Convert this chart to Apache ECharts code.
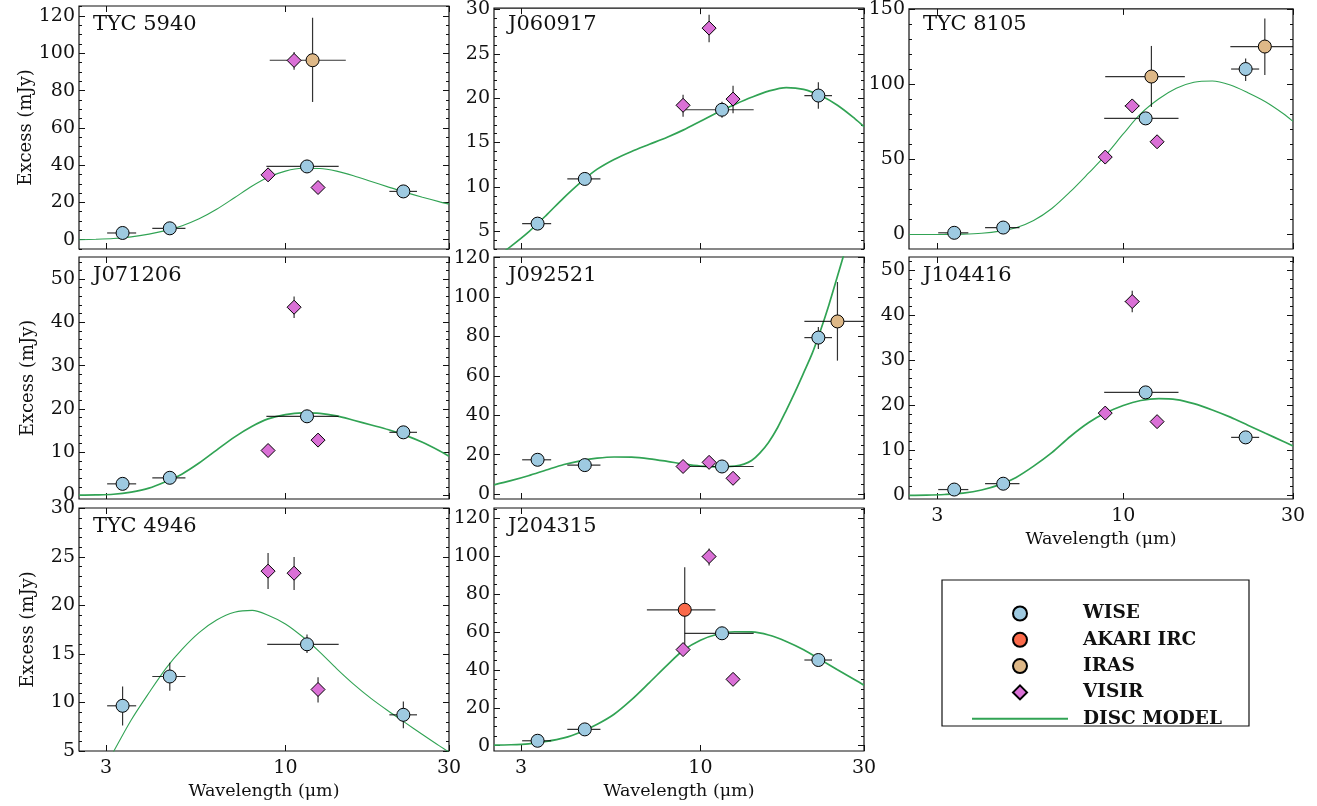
<!DOCTYPE html>
<html><head><meta charset="utf-8">
<script src="https://cdn.jsdelivr.net/npm/echarts@6/dist/echarts.min.js"></script>
<style>html,body{margin:0;padding:0;background:#fff}#c{width:1317px;height:806px}</style>
</head><body><div id="c"></div>
<script>
// ---------- DATA (wavelength in um, excess in mJy) ----------
// point rows: [lambda, value, lambdaLow, lambdaHigh, valueLow, valueHigh]
const panelNames = ['TYC 5940', 'J060917', 'TYC 8105', 'J071206', 'J092521', 'J104416', 'TYC 4946', 'J204315'];
const xTickLabels = [3, 10, 30];

const wise_TYC5940 = [[3.35,3.6,3.02,3.67,3.1,4.1],[4.6,6.1,4.09,5.11,5.6,6.6],[11.56,39.3,8.8,14.3,38.5,40.1],[22.08,25.9,20.1,24.2,25.0,26.8]];
const visir_TYC5940 = [[8.9,34.8,8.9,8.9,34,35.6],[10.6,96.2,10.6,10.6,91.2,100.7],[12.45,28.0,12.45,12.45,27.2,28.8]];
const iras_TYC5940 = [[12.0,96.3,9.0,15.0,73.9,119.1]];
const model_TYC5940 = [[2.5,0.0],[2.8,0.2],[3.15,0.6],[3.55,1.5],[4.0,3.0],[4.5,5.0],[5.0,7.5],[5.6,11.2],[6.3,16.3],[7.1,22.5],[8.0,28.8],[8.9,33.5],[10,36.8],[11.2,38.3],[12.6,38.2],[14.1,36.8],[15.8,34.3],[17.8,31.2],[20,28.2],[22.4,25.4],[25.1,22.8],[28.2,20.3],[30,19.1]];

const wise_J060917 = [[3.35,5.86,3.02,3.67,5.5,6.2],[4.6,10.9,4.09,5.11,10.5,11.3],[11.56,18.7,8.9,14.3,17.8,19.6],[22.08,20.3,20.1,24.2,18.8,21.8]];
const visir_J060917 = [[8.9,19.2,8.9,8.9,17.9,20.4],[10.6,27.9,10.6,10.6,26.3,29.4],[12.45,19.9,12.45,12.45,18.3,21.4]];
const model_J060917 = [[2.5,1.9],[2.8,3.3],[3.15,4.9],[3.55,6.8],[4.0,8.8],[4.5,10.6],[5.0,12.0],[5.6,13.1],[6.3,14.0],[7.1,14.8],[8.0,15.6],[8.9,16.4],[10,17.4],[11.2,18.4],[12.6,19.3],[14.1,20.1],[15.8,20.8],[17.8,21.2],[20,21.0],[22.4,20.3],[25.1,19.2],[28.2,17.7],[30,16.8]];

const wise_TYC8105 = [[3.35,1.1,3.02,3.67,0,2.2],[4.6,4.6,4.09,5.11,3.5,5.7],[11.56,77.4,8.84,14.3,75,79.8],[22.08,110.3,20.1,24.1,102.4,117.4]];
const iras_TYC8105 = [[12.0,105.3,8.9,14.9,85,125.7],[25.0,125.3,20,30,106.4,144]];
const visir_TYC8105 = [[8.9,51.6,8.9,8.9,50,53],[10.6,85.7,10.1,11.1,84,87.4],[12.45,61.8,12.45,12.45,60,63.6]];
const model_TYC8105 = [[2.5,0],[2.8,0],[3.15,0.05],[3.55,0.2],[4.0,0.8],[4.5,2.2],[5.0,4.5],[5.6,9.3],[6.3,17.3],[7.1,28.5],[8.0,41],[8.9,52.5],[10,67],[11.2,80.5],[12.6,90.5],[14.1,97.5],[15.8,101.5],[17.8,102.3],[20,99.6],[22.4,94.5],[25.1,88.5],[28.2,80.5],[30,75.4]];

const wise_J071206 = [[3.35,2.7,3.02,3.67,2.3,3.1],[4.6,4.1,4.09,5.11,3.7,4.5],[11.56,18.3,8.8,14.3,17.7,18.9],[22.08,14.6,20.1,24.2,13.9,15.3]];
const visir_J071206 = [[8.9,10.4,8.9,8.9,9.9,10.9],[10.6,43.5,10.6,10.6,41,46],[12.45,12.8,12.45,12.45,12.3,13.3]];
const model_J071206 = [[2.5,0.1],[2.8,0.15],[3.15,0.3],[3.55,0.8],[4.0,1.7],[4.5,3.3],[5.0,5.0],[5.6,7.5],[6.3,10.5],[7.1,13.5],[8.0,16.0],[8.9,17.7],[10,18.7],[11.2,19.1],[12.6,19.0],[14.1,18.4],[15.8,17.4],[17.8,16.3],[20,15.2],[22.4,13.9],[25.1,12.3],[28.2,10.3],[30,9.1]];

const wise_J092521 = [[3.35,17.4,3.02,3.67,16.5,18.3],[4.6,14.7,4.09,5.11,13.8,15.6],[11.56,14.0,8.9,14.3,13.1,14.9],[22.08,79.4,20.1,24.2,73.6,84.8]];
const iras_J092521 = [[25.1,87.6,20.1,30,67.7,107.6]];
const visir_J092521 = [[8.9,14.0,8.9,8.9,13,15],[10.6,16.1,10.6,10.6,15,17.2],[12.45,8.0,12.45,12.45,7,9]];
const model_J092521 = [[2.5,4.7],[2.8,6.8],[3.15,9.3],[3.55,12.2],[4.0,15.0],[4.5,17.0],[5.0,18.2],[5.6,18.8],[6.3,18.7],[7.1,17.9],[8.0,16.6],[8.9,15.3],[10,14.2],[11.2,13.8],[12.6,14.2],[13.4,15.2],[14.1,17.0],[14.9,20.8],[15.8,26.2],[16.8,33.8],[17.8,42.5],[18.9,52],[20,61.5],[21.2,71.5],[22.4,83],[23.7,96],[25.1,110.5],[26.1,120.5],[27,130]];

const wise_J104416 = [[3.35,1.3,3.02,3.67,0.9,1.7],[4.6,2.6,4.09,5.11,2.2,3.0],[11.56,22.9,8.84,14.3,22.3,23.5],[22.08,12.9,20.1,24.1,12.2,13.6]];
const visir_J104416 = [[8.9,18.3,8.9,8.9,17.7,18.9],[10.6,43.1,10.1,11.1,40.7,45.5],[12.45,16.4,12.45,12.45,15.8,17]];
const model_J104416 = [[2.5,0],[2.8,0.05],[3.15,0.2],[3.55,0.5],[4.0,1.2],[4.5,2.4],[5.0,4.0],[5.6,6.5],[6.3,9.5],[7.1,13.1],[8.0,16.2],[8.9,18.3],[10,20.0],[11.2,21.1],[12.6,21.5],[14.1,21.3],[15.8,20.4],[17.8,19.0],[20,17.4],[22.4,15.6],[25.1,13.8],[28.2,12.0],[30,11.0]];

const wise_TYC4946 = [[3.35,9.66,3.02,3.67,7.63,11.65],[4.6,12.68,4.09,5.11,11.2,14.1],[11.56,16.0,8.85,14.3,15.1,17.0],[22.08,8.73,20.1,24.2,7.35,10.1]];
const visir_TYC4946 = [[8.9,23.54,8.9,8.9,21.7,25.4],[10.6,23.33,10.2,11.0,21.6,25.0],[12.45,11.34,12.45,12.45,10.0,12.6]];
const model_TYC4946 = [[2.8,1.5],[3.15,4.9],[3.55,8.2],[4.0,11.0],[4.5,13.6],[5.0,15.5],[5.6,17.2],[6.3,18.5],[7.1,19.3],[8.0,19.5],[8.9,19.0],[10,18.1],[11.2,16.8],[12.6,15.2],[14.1,13.5],[15.8,11.9],[17.8,10.4],[20,9.1],[22.4,7.9],[25.1,6.7],[28.2,5.5],[30,4.9]];

const wise_J204315 = [[3.35,2.6,3.02,3.67,1.5,3.7],[4.6,8.6,4.09,5.11,7.6,9.6],[11.56,59.3,9.0,14.3,58,60.6],[22.08,45.2,20.1,24.2,44,46.4]];
const akari_J204315 = [[9.0,71.7,6.98,11.06,49.3,94.1]];
const visir_J204315 = [[8.9,50.7,8.9,8.9,49.5,52],[10.6,99.8,10.1,11.1,95,104],[12.45,35.0,12.45,12.45,34,36]];
const model_J204315 = [[2.5,0.3],[2.8,0.5],[3.15,1.0],[3.55,2.2],[4.0,4.1],[4.5,7.4],[5.0,11.3],[5.6,16.6],[6.3,24.3],[7.1,33.3],[8.0,42.5],[8.9,50.2],[10,55.6],[11.2,58.8],[12.6,60.1],[14.1,60.0],[15.8,58.4],[17.8,55.0],[20,50.6],[22.4,45.4],[25.1,40.1],[28.2,34.8],[30,31.9]];

// y tick labels per panel
const yTicks_TYC5940 = [0,20,40,60,80,100,120];
const yTicks_J060917 = [5,10,15,20,25,30];
const yTicks_TYC8105 = [0,50,100,150];
const yTicks_J071206 = [0,10,20,30,40,50];
const yTicks_J092521 = [0,20,40,60,80,100,120];
const yTicks_J104416 = [0,10,20,30,40,50];
const yTicks_TYC4946 = [5,10,15,20,25,30];
const yTicks_J204315 = [0,20,40,60,80,100,120];

// ---------- LAYOUT / STYLE ----------
const FONT = '"DejaVu Serif", "Liberation Serif", serif';
const INK = '#111';
const COL = {wise:'#9ecae1', akari:'#fb6a4a', iras:'#deb887', visir:'#da70d6', model:'#31a354'};
const cols = [{left:79,width:370},{left:494,width:370},{left:909,width:384}];
const rows = [{top:6,height:243},{top:257,height:242},{top:508,height:243}];
const panels = [
  {r:0,c:0,y:[-5,125.4],ticks:yTicks_TYC5940,minor:5,wise:wise_TYC5940,visir:visir_TYC5940,iras:iras_TYC5940,model:model_TYC5940,lw:1.1,yName:true},
  {r:0,c:1,y:[3.0,30.15],ticks:yTicks_J060917,minor:1,wise:wise_J060917,visir:visir_J060917,model:model_J060917,lw:1.7},
  {r:0,c:2,y:[-9.7,150.4],ticks:yTicks_TYC8105,minor:10,wise:wise_TYC8105,visir:visir_TYC8105,iras:iras_TYC8105,model:model_TYC8105,lw:1.1},
  {r:1,c:0,y:[-0.8,55.1],ticks:yTicks_J071206,minor:2,wise:wise_J071206,visir:visir_J071206,model:model_J071206,lw:1.7,yName:true},
  {r:1,c:1,y:[-2.5,120.3],ticks:yTicks_J092521,minor:5,wise:wise_J092521,visir:visir_J092521,iras:iras_J092521,model:model_J092521,lw:1.7},
  {r:1,c:2,y:[-0.8,53],ticks:yTicks_J104416,minor:2,wise:wise_J104416,visir:visir_J104416,model:model_J104416,lw:1.7,xName:true},
  {r:2,c:0,y:[5,30.05],ticks:yTicks_TYC4946,minor:1,wise:wise_TYC4946,visir:visir_TYC4946,model:model_TYC4946,lw:1.1,yName:true,xName:true},
  {r:2,c:1,y:[-2.8,125.4],ticks:yTicks_J204315,minor:5,wise:wise_J204315,visir:visir_J204315,akari:akari_J204315,model:model_J204315,lw:1.7,xName:true}
];

const lg = v => Math.log10(v);
const toPt = p => [lg(p[0]), p[1], lg(p[2]), lg(p[3]), p[4], p[5]];
const XMIN = lg(2.5), XMAX = lg(30);

function errRender(params, api) {
  const xc = api.value(0), yc = api.value(1);
  const p = api.coord([xc, yc]);
  const a = api.coord([api.value(2), yc]), b = api.coord([api.value(3), yc]);
  const c = api.coord([xc, api.value(4)]), d = api.coord([xc, api.value(5)]);
  const style = {stroke:'rgba(0,0,0,0.8)', lineWidth:1.2};
  return {type:'group', children:[
    {type:'line', shape:{x1:a[0],y1:p[1],x2:b[0],y2:p[1]}, style},
    {type:'line', shape:{x1:p[0],y1:c[1],x2:p[0],y2:d[1]}, style}
  ]};
}

const grid = [], xAxis = [], yAxis = [], series = [], titles = [];
const lblStyle = {fontFamily:FONT, fontSize:19, color:INK, fontWeight:'normal'};
panels.forEach((P, i) => {
  const g = {left:cols[P.c].left, width:cols[P.c].width, top:rows[P.r].top, height:rows[P.r].height,
    show:true, borderColor:INK, borderWidth:1.2, backgroundColor:'transparent'};
  grid.push(g);
  titles.push({text:panelNames[i], left:g.left+14, top:g.top+8, padding:0,
    textStyle:{fontFamily:FONT, fontSize:21, fontWeight:'normal', color:INK, lineHeight:21}});
  const xt = xTickLabels.map(lg);
  ['bottom','top'].forEach(pos => {
    xAxis.push({type:'value', gridIndex:i, position:pos, min:XMIN, max:XMAX,
      axisLine:{show:false, onZero:false}, splitLine:{show:false},
      axisTick:{show:true, inside:true, length:6, customValues:xt, lineStyle:{color:INK, width:1}},
      axisLabel:Object.assign({show: pos==='bottom' && !!P.xName, customValues:xt, margin:8,
        formatter: v => String(Math.round(Math.pow(10, v)))}, lblStyle),
      name: (pos==='bottom' && P.xName) ? 'Wavelength (\u03bcm)' : '',
      nameLocation:'middle', nameGap:31,
      nameTextStyle:{fontFamily:FONT, fontSize:17.5, color:INK}});
  });
  const minors = [];
  const st = P.minor;
  for (let v = Math.ceil(P.y[0]/st)*st; v <= P.y[1]+1e-9; v += st) {
    const vv = Math.round(v*1000)/1000;
    if (P.ticks.indexOf(vv) < 0) minors.push(vv);
  }
  ['left','right'].forEach(pos => {
    yAxis.push({type:'value', gridIndex:i, position:pos, min:P.y[0], max:P.y[1],
      axisLine:{show:false, onZero:false}, splitLine:{show:false},
      axisTick:{show:true, inside:true, length:6, customValues:P.ticks, lineStyle:{color:INK, width:1}},
      axisLabel:Object.assign({show: pos==='left', customValues:P.ticks, margin:4}, lblStyle),
      name: (pos==='left' && P.yName) ? 'Excess (mJy)' : '',
      nameLocation:'middle', nameGap:42,
      nameTextStyle:{fontFamily:FONT, fontSize:18, color:INK}});
    yAxis.push({type:'value', gridIndex:i, position:pos, min:P.y[0], max:P.y[1],
      axisLine:{show:false, onZero:false}, splitLine:{show:false},
      axisTick:{show:true, inside:true, length:3, customValues:minors, lineStyle:{color:INK, width:1}},
      axisLabel:{show:false}});
  });
  const xi = 2*i, yi = 4*i;
  series.push({name:'DISC MODEL', type:'line', xAxisIndex:xi, yAxisIndex:yi, symbol:'none', showSymbol:false,
    smooth:0.3, clip:true, silent:true, z:2,
    lineStyle:{color:COL.model, width:P.lw}, itemStyle:{color:COL.model},
    data:P.model.map(p => [lg(p[0]), p[1]])});
  const sets = [['wise','WISE','circle',13],['akari','AKARI IRC','circle',13],['iras','IRAS','circle',13],['visir','VISIR','diamond',14]];
  sets.forEach(([k]) => {
    if (!P[k]) return;
    series.push({type:'custom', xAxisIndex:xi, yAxisIndex:yi, renderItem:errRender, clip:true, silent:true, z:3,
      encode:{x:[0,2,3], y:[1,4,5]}, data:P[k].map(toPt)});
  });
  sets.forEach(([k, name, sym, size]) => {
    if (!P[k]) return;
    series.push({name, type:'scatter', xAxisIndex:xi, yAxisIndex:yi, symbol:sym, symbolSize:size, z:4, silent:true,
      itemStyle:{color:COL[k], borderColor:'#000', borderWidth:1, opacity:1},
      data:P[k].map(p => [lg(p[0]), p[1]])});
  });
});

const DIAMOND = 'path://M0,-6L6,0L0,6L-6,0Z';
const chart = echarts.init(document.getElementById('c'), null, {renderer:'canvas'});
chart.setOption({
  animation:false,
  backgroundColor:'#fff',
  textStyle:{fontFamily:FONT},
  title:titles, grid, xAxis, yAxis, series,
  legend:{orient:'vertical', left:971, top:604, padding:0, itemWidth:96, itemHeight:14, itemGap:7.3,
    selectedMode:false, symbolKeepAspect:true,
    data:[
      {name:'WISE', icon:'circle'},
      {name:'AKARI IRC', icon:'circle'},
      {name:'IRAS', icon:'circle'},
      {name:'VISIR', icon:DIAMOND},
      {name:'DISC MODEL', itemStyle:{opacity:0}}
    ],
    textStyle:{fontFamily:FONT, fontWeight:'bold', fontSize:18.5, lineHeight:14, color:INK, padding:[0,0,0,10]}},
  graphic:[{type:'rect', shape:{x:942, y:580, width:307, height:146}, style:{fill:'none', stroke:INK, lineWidth:1.2}, silent:true}]
});
</script></body></html>
